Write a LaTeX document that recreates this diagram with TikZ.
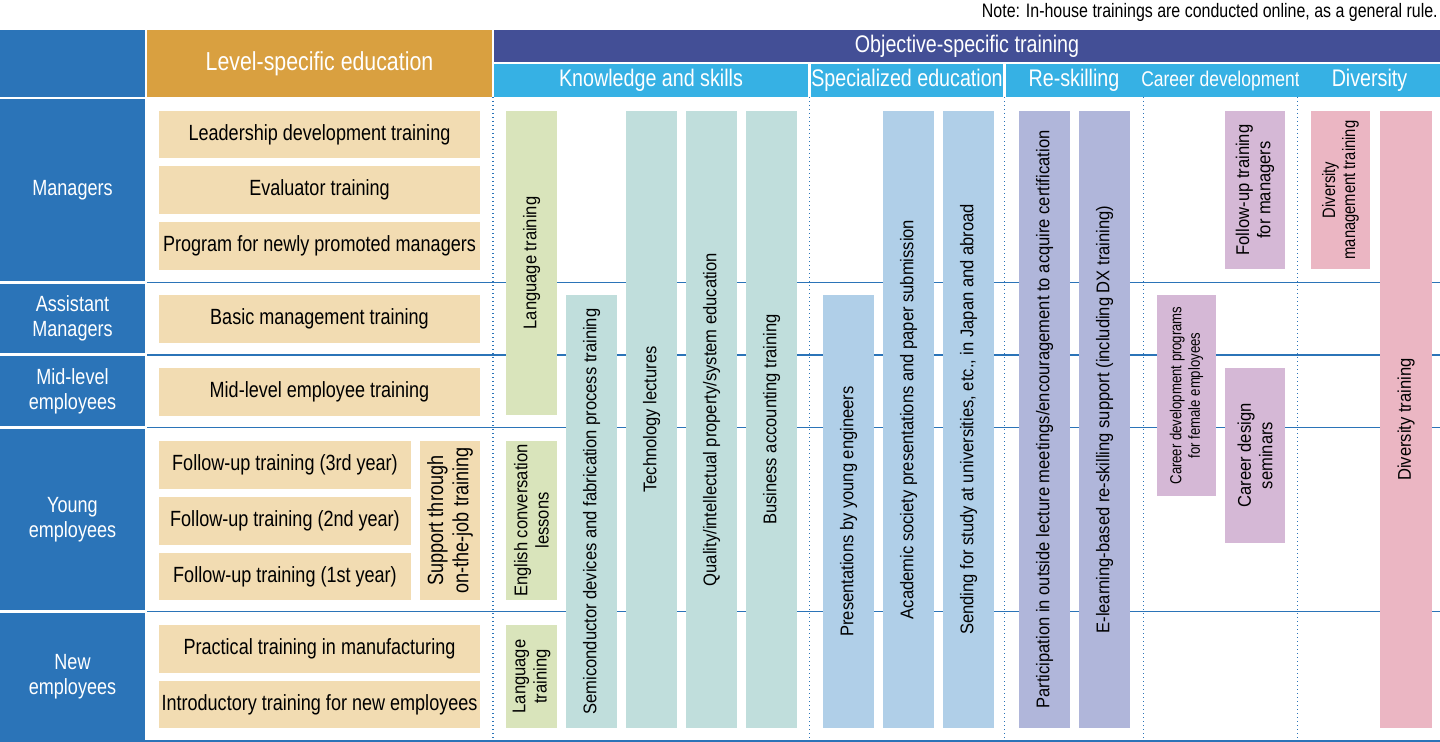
\documentclass[tikz,border=0pt]{standalone}
\usepackage{fontspec}
\setmainfont{Liberation Sans}[FakeStretch=0.82]
\newfontfamily\vf{Liberation Sans}[FakeStretch=0.9]
\definecolor{rowb}{HTML}{2B74B8}
\definecolor{orng}{HTML}{D9A040}
\definecolor{navy}{HTML}{434F96}
\definecolor{lblu}{HTML}{36B1E4}
\definecolor{tan}{HTML}{F2DCB2}
\definecolor{grn}{HTML}{D9E4BB}
\definecolor{teal}{HTML}{C0DEDC}
\definecolor{sky}{HTML}{B0CFE8}
\definecolor{lav}{HTML}{B0B6DA}
\definecolor{purp}{HTML}{D5B8D6}
\definecolor{pink}{HTML}{EBB6C3}
\newcommand\bx[7]{\pgfmathsetmacro\cx{(#3+#5)/2}\pgfmathsetmacro\cy{(#4+#6)/2}\pgfmathsetmacro\w{(#5-#3)*0.75}\pgfmathsetmacro\h{(#6-#4)*0.75}\node[#2,minimum width=\w pt,minimum height=\h pt] (#1) at (\cx,\cy) {#7};}
\newcommand\vbx[7]{\pgfmathsetmacro\cx{(#3+#5)/2}\pgfmathsetmacro\cy{(#4+#6)/2}\pgfmathsetmacro\w{(#5-#3)*0.75}\pgfmathsetmacro\h{(#6-#4)*0.75}\node[#2,rotate=90,minimum width=\h pt,minimum height=\w pt] (#1) at (\cx,\cy) {#7};}
\tikzset{
 base/.style={inner sep=0pt,align=center},
 hd/.style={base,text=white,font=\fontsize{18}{20}\selectfont},
 row/.style={hd,fill=rowb,font=\fontsize{16.5}{19}\selectfont},
 lv/.style={base,fill=tan,font=\fontsize{16.5}{19}\selectfont},
 vb/.style={base,font=\vf\fontsize{13.8}{16}\selectfont},
 hl/.style={rowb,line width=1.2pt},
 dl/.style={rowb,line width=1pt,dotted}
}
\begin{document}
\begin{tikzpicture}[x=0.75pt,y=-0.75pt]
\useasboundingbox (0,0) rectangle (1440,742);
\node[base,anchor=east,font=\fontsize{14.6}{16}\selectfont] (note) at (1438,12) {Note: In-house trainings are conducted online, as a general rule.};
% header
\bx{hL}{row}{0}{30}{145}{97}{}
\bx{hLev}{hd,fill=orng,font=\fontsize{19.5}{22}\selectfont}{147}{30}{492}{97}{Level-specific education}
\bx{hObj}{hd,fill=navy}{494}{30}{1440}{62}{Objective-specific training}
\bx{hK}{hd,fill=lblu}{494}{64}{808}{97}{Knowledge and skills}
\bx{hS}{hd,fill=lblu}{811}{64}{1003}{97}{Specialized education}
\bx{hR}{hd,fill=lblu}{1006}{64}{1142}{97}{Re-skilling}
\bx{hC}{hd,fill=lblu,font=\fontsize{16}{18}\selectfont}{1145}{64}{1296}{97}{Career development}
\bx{hD}{hd,fill=lblu}{1299}{64}{1440}{97}{Diversity}
% rows
\bx{rM}{row}{0}{99}{145}{281}{Managers}
\bx{rA}{row}{0}{284}{145}{353}{Assistant\\Managers}
\bx{rMid}{row}{0}{356}{145}{426}{Mid-level\\employees}
\bx{rY}{row}{0}{429}{145}{610}{Young\\employees}
\bx{rN}{row}{0}{613}{145}{740}{New\\employees}
% lines
\foreach \y in {282.5,355,427.5,611.5} \draw[hl] (147,\y) -- (1440,\y);
\draw[hl] (0,741) -- (1440,741);
\foreach \x in {493,809.5,1004.5,1143.5,1297.5} \draw[dl] (\x,97) -- (\x,740);
% level boxes
\bx{l1}{lv}{159}{111}{480}{158}{Leadership development training}
\bx{l2}{lv}{159}{166}{480}{214}{Evaluator training}
\bx{l3}{lv}{159}{222}{480}{270}{Program for newly promoted managers}
\bx{l4}{lv}{159}{295}{480}{343}{Basic management training}
\bx{l5}{lv}{159}{368}{480}{416}{Mid-level employee training}
\bx{l6}{lv}{159}{441}{411}{489}{Follow-up training (3rd year)}
\bx{l7}{lv}{159}{497}{411}{545}{Follow-up training (2nd year)}
\bx{l8}{lv}{159}{553}{411}{600}{Follow-up training (1st year)}
\vbx{l9}{lv}{420}{441}{480}{600}{Support through\\on-the-job training}
\bx{l10}{lv}{159}{625}{480}{673}{Practical training in manufacturing}
\bx{l11}{lv}{159}{681}{480}{728}{Introductory training for new employees}
% bars
\vbx{b1}{vb,fill=grn}{506}{111}{557}{415}{Language training}
\vbx{b2}{vb,fill=grn}{506}{441}{557}{600}{English conversation\\lessons}
\vbx{b3}{vb,fill=grn}{506}{625}{557}{728}{Language\\training}
\vbx{b4}{vb,fill=teal}{566}{295}{617}{728}{Semiconductor devices and fabrication process training}
\vbx{b5}{vb,fill=teal}{626}{111}{677}{728}{Technology lectures}
\vbx{b6}{vb,fill=teal}{686}{111}{737}{728}{Quality/intellectual property/system education}
\vbx{b7}{vb,fill=teal}{746}{111}{797}{728}{Business accounting training}
\vbx{b8}{vb,fill=sky}{823}{295}{874}{728}{Presentations by young engineers}
\vbx{b9}{vb,fill=sky}{883}{111}{934}{728}{Academic society presentations and paper submission}
\vbx{b10}{vb,fill=sky}{943}{111}{994}{728}{Sending for study at universities, etc., in Japan and abroad}
\vbx{b11}{vb,fill=lav}{1019}{111}{1070}{728}{Participation in outside lecture meetings/encouragement to acquire certification}
\vbx{b12}{vb,fill=lav}{1079}{111}{1130}{728}{E-learning-based re-skilling support (including DX training)}
\vbx{b13}{vb,fill=purp,font=\fontsize{12}{14}\selectfont}{1157}{295}{1216}{496}{Career development programs\\for female employees}
\vbx{b14}{vb,fill=purp}{1225}{368}{1285}{543}{Career design\\seminars}
\vbx{b15}{vb,fill=purp}{1225}{111}{1285}{269}{Follow-up training\\for managers}
\vbx{b16}{vb,fill=pink,font=\fontsize{13.5}{15}\selectfont}{1311}{111}{1370}{269}{Diversity\\management training}
\vbx{b17}{vb,fill=pink}{1380}{111}{1432}{728}{Diversity training}
\end{tikzpicture}
\end{document}
